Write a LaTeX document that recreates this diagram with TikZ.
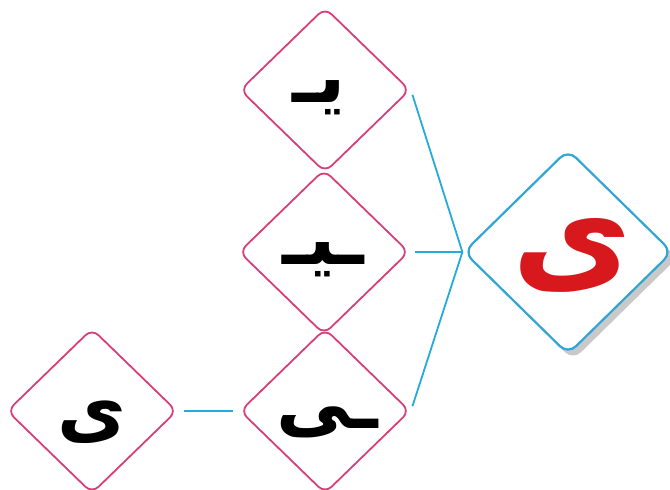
\documentclass[tikz,border=0pt]{standalone}
\usepackage{fontspec}
\newfontfamily\arabicfont[Script=Arabic]{DejaVu Sans}
\TeXXeTstate=1
\usetikzlibrary{shapes.geometric,shadows}
\definecolor{pinkb}{RGB}{214,64,122}
\definecolor{cyanl}{RGB}{38,170,215}
\definecolor{blueb}{RGB}{50,165,215}
\definecolor{redt}{RGB}{215,25,30}
\begin{document}
\begin{tikzpicture}[x=1pt,y=-1pt,
  pinkd/.style={diamond, draw=pinkb, line width=1.8pt, rounded corners=9pt,
    minimum width=170pt, minimum height=165pt, inner sep=0pt, fill=white},
  blued/.style={diamond, draw=blueb, line width=2.2pt, rounded corners=11pt,
    minimum width=209pt, minimum height=205pt, inner sep=0pt, fill=white,
    drop shadow={shadow xshift=5pt,shadow yshift=-6pt,opacity=0.3,fill=black!70}},
  conn/.style={draw=cyanl, line width=1.8pt},
  letter/.style={font=\arabicfont\bfseries\fontsize{75}{90}\selectfont, inner sep=0pt},
  bigletter/.style={font=\arabicfont\bfseries\fontsize{130}{150}\selectfont, inner sep=0pt, text=redt}]
\useasboundingbox (0,0) rectangle (670,490);
\node[pinkd] (top) at (325,90) {};
\node[pinkd] (mid) at (324,252) {};
\node[pinkd] (bot) at (325,411) {};
\node[pinkd] (iso) at (92,411) {};
\node[blued] (big) at (568,252) {};
\node[letter] (ltop) at (319,98) {\beginR يـ\endR};
\node[letter] (lmid) at (323,260) {\beginR ـيـ\endR};
\node[letter] (lbot) at (327,422) {\beginR ـی\endR};
\node[letter] (liso) at (92,422) {\beginR ی\endR};
\node[bigletter] (lbig) at (572,255) {\beginR ی\endR};
\draw[conn, shorten <=5pt] (top.east) -- (big.west);
\draw[conn, shorten <=5pt] (mid.east) -- (big.west);
\draw[conn, shorten <=5pt] (bot.east) -- (big.west);
\draw[conn, shorten <=6pt, shorten >=6pt] (iso.east) -- (bot.west);
\end{tikzpicture}
\end{document}
